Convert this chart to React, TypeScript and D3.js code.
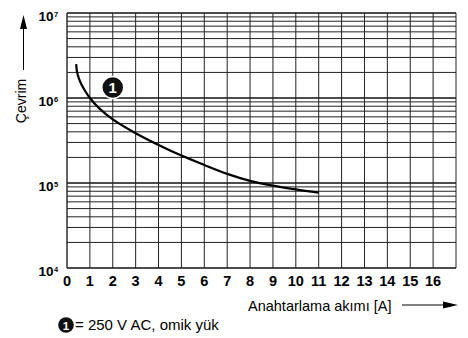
import React from "react";
import * as d3 from "d3";

// curve 1: 250 V AC, resistive load
const currentA = [0.4, 0.45, 0.6, 0.8, 1, 1.4, 2, 3, 4, 5, 6, 7, 8, 9, 10, 11];
const cycles = [2.5e6, 1.95e6, 1.5e6, 1.2e6, 1.0e6, 7.6e5, 5.6e5, 3.85e5, 2.8e5, 2.1e5, 1.63e5, 1.28e5, 1.06e5, 9.3e4, 8.4e4, 7.7e4];

const xTicks = d3.range(0, 17);
const yDecades = [1e4, 1e5, 1e6, 1e7];
const yExps = ["4", "5", "6", "7"];

const markerAt = { x: 2, y: 1.33e6 };

const xTitle = "Anahtarlama akımı [A]";
const yTitle = "Çevrim";
const legendText = "= 250 V AC, omik yük";

const W = 468;
const H = 338;
const font = "'Liberation Sans', Arial, Helvetica, sans-serif";

const App: React.FC = () => {
  const x = d3.scaleLinear().domain([0, 17]).range([67, 456]);
  const y = d3.scaleLog().domain([1e4, 1e7]).range([268, 13]);

  // minor log grid: 2..9 within each decade
  const minor: number[] = [];
  [1e4, 1e5, 1e6].forEach(d => {
    for (let k = 2; k <= 9; k++) minor.push(d * k);
  });

  const line = d3.line<number>()
    .x((_, i) => x(currentA[i]))
    .y(d => y(d))
    .curve(d3.curveCatmullRom.alpha(0.5));

  const [x0, x1] = x.range();

  return (
    <svg
      width={W}
      height={H}
      style={{ position: "absolute", left: 0, top: 0, background: "#fff" }}
      fontFamily={font}
    >
      {/* horizontal grid */}
      {minor.map(v => (
        <line key={"m" + v} x1={x0} x2={x1} y1={y(v)} y2={y(v)} stroke="#222" strokeWidth={1} />
      ))}
      {yDecades.map(v => (
        <line key={"d" + v} x1={x0} x2={x1} y1={y(v)} y2={y(v)} stroke="#111" strokeWidth={1.4} />
      ))}
      {/* vertical grid */}
      {xTicks.concat([17]).map(t => (
        <line key={"v" + t} x1={x(t)} x2={x(t)} y1={y(1e7)} y2={y(1e4)} stroke="#222" strokeWidth={t === 0 ? 1.4 : 1} />
      ))}

      {/* curve */}
      <path d={line(cycles) || ""} fill="none" stroke="#000" strokeWidth={2.2} />

      {/* curve marker */}
      <circle cx={x(markerAt.x)} cy={y(markerAt.y)} r={11} fill="#111" stroke="#fff" strokeWidth={1.5} />
      <text x={x(markerAt.x)} y={y(markerAt.y) + 5.5} textAnchor="middle" fill="#fff" fontSize={15} fontWeight="bold">1</text>

      {/* y tick labels */}
      {yDecades.map((v, i) => (
        <g key={"yl" + v}>
          <text x={53.5} y={y(v) + 7.5} textAnchor="end" fontSize={13.5} fontWeight="bold">10</text>
          <text x={54} y={y(v) + 4} fontSize={7.5} fontWeight="bold">{yExps[i]}</text>
        </g>
      ))}

      {/* x tick labels */}
      {xTicks.map(t => (
        <text key={"xl" + t} x={x(t)} y={286} textAnchor="middle" fontSize={14.5} fontWeight="bold">{t}</text>
      ))}

      {/* y title with arrow */}
      <text
        transform="translate(25.5,101) rotate(-90)"
        textAnchor="middle"
        fontSize={14}
      >{yTitle}</text>
      <line x1={23.5} x2={23.5} y1={70} y2={26} stroke="#000" strokeWidth={1} />
      <path d="M23.5,15 L20,29 L27,29 Z" fill="#000" />

      {/* x title with arrow */}
      <text x={248} y={311} fontSize={14.5}>{xTitle}</text>
      <line x1={402} x2={446} y1={305} y2={305} stroke="#000" strokeWidth={1} />
      <path d="M458,305 L443,301.5 L443,308.5 Z" fill="#000" />

      {/* legend */}
      <circle cx={66} cy={325} r={7.8} fill="#111" />
      <text x={66} y={329.5} textAnchor="middle" fill="#fff" fontSize={11.5} fontWeight="bold">1</text>
      <text x={75} y={330} fontSize={15}>{legendText}</text>
    </svg>
  );
};

export default App;
